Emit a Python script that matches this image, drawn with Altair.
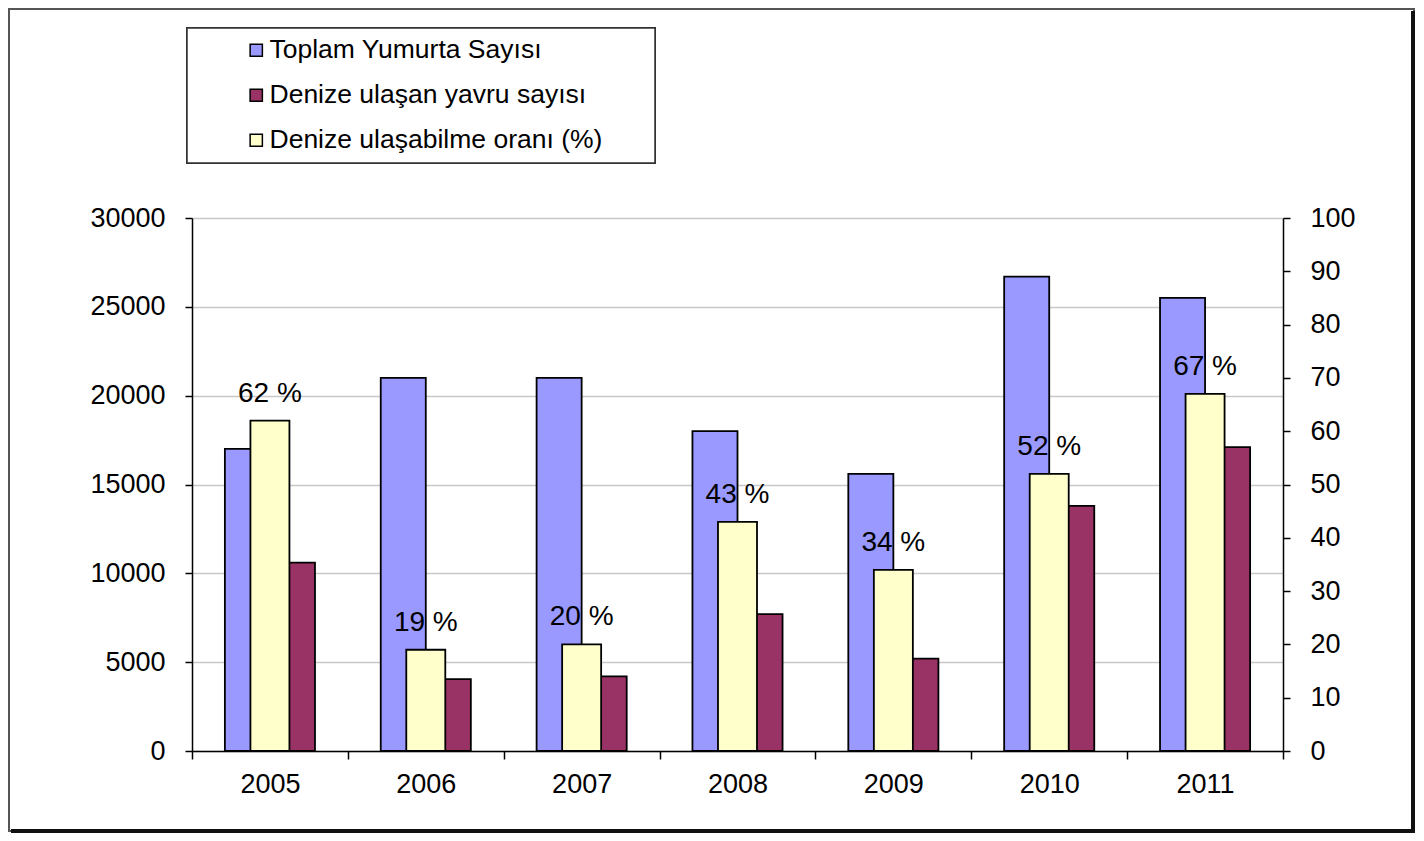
import altair as alt
import pandas as pd

years = ["2005", "2006", "2007", "2008", "2009", "2010", "2011"]
toplam = [17000, 21000, 21000, 18000, 15600, 26700, 25500]
yavru = [10600, 4050, 4200, 7700, 5200, 13800, 17100]
oran = [62, 19, 20, 43, 34, 52, 67]

s_toplam = "Toplam Yumurta Sayısı"
s_yavru = "Denize ulaşan yavru sayısı"
s_oran = "Denize ulaşabilme oranı (%)"
series_names = [s_toplam, s_yavru, s_oran]
series_colors = ["#9999FF", "#993366", "#FFFFCC"]

left_ticks = [0, 5000, 10000, 15000, 20000, 25000, 30000]
right_ticks = [0, 10, 20, 30, 40, 50, 60, 70, 80, 90, 100]

FONT = "Liberation Sans"

rows = []
for i, y in enumerate(years):
    rows.append({"year": y, "series": s_toplam, "value": toplam[i]})
    rows.append({"year": y, "series": s_yavru, "value": yavru[i]})
df_primary = pd.DataFrame(rows)
df_oran = pd.DataFrame({"year": years, "oran": oran, "series": [s_oran] * len(years)})

x_scale = alt.Scale(domain=years, paddingInner=0, paddingOuter=0)
x_axis = alt.Axis(title=None, labelAngle=0, tickBand="extent", tickSize=8,
                  labelPadding=12, labelFontSize=27, labelFont=FONT,
                  labelColor="#000000", domainColor="#000000", tickColor="#000000",
                  domainWidth=1.5, tickWidth=1.5, grid=False, zindex=1)

legend = alt.Legend(title=None, orient="none", legendX=-5, legendY=-190,
                    symbolType="square", symbolSize=150, symbolStrokeColor="#000000",
                    symbolStrokeWidth=1.5, labelFontSize=26.5, labelFont=FONT,
                    labelColor="#000000", labelOffset=0, rowPadding=18,
                    symbolOffset=47, padding=9, labelLimit=600)
color_scale = alt.Scale(domain=series_names, range=series_colors)

primary = alt.Chart(df_primary).mark_bar(stroke="#000000", strokeWidth=1.8).encode(
    x=alt.X("year:N", scale=x_scale, axis=x_axis, sort=years),
    xOffset=alt.XOffset("series:N", sort=[s_toplam, s_yavru],
                        scale=alt.Scale(domain=[s_toplam, s_yavru], paddingInner=0, paddingOuter=0.73)),
    y=alt.Y("value:Q", scale=alt.Scale(domain=[0, 30000], nice=False),
            axis=alt.Axis(title=None, values=left_ticks, format="d", orient="left",
                          labelFontSize=27, labelFont=FONT, labelColor="#000000",
                          labelPadding=20, tickSize=7, tickColor="#000000", tickWidth=1.5,
                          domainColor="#000000", domainWidth=1.5,
                          grid=True, gridColor="#C8C8C8", gridWidth=1.5)),
    color=alt.Color("series:N", scale=color_scale, legend=legend),
)

right_axis = alt.Axis(title=None, values=right_ticks, orient="right",
                      labelFontSize=27, labelFont=FONT, labelColor="#000000",
                      labelPadding=20, tickSize=7, tickColor="#000000", tickWidth=1.5,
                      domainColor="#000000", domainWidth=1.5, grid=False, zindex=1)
right_scale = alt.Scale(domain=[0, 100], nice=False)

yellow = alt.Chart(df_oran).mark_bar(width=39, stroke="#000000", strokeWidth=1.8).encode(
    x=alt.X("year:N", scale=x_scale, axis=x_axis, sort=years),
    y=alt.Y("oran:Q", scale=right_scale, axis=right_axis),
    color=alt.Color("series:N", scale=color_scale, legend=legend),
)

labels = alt.Chart(df_oran).transform_calculate(
    label="datum.oran + ' %'"
).mark_text(dy=-19, baseline="alphabetic", align="center", fontSize=28,
            font=FONT, color="#000000").encode(
    x=alt.X("year:N", scale=x_scale, axis=x_axis, sort=years),
    y=alt.Y("oran:Q", scale=right_scale, axis=right_axis),
    text="label:N",
)

secondary = alt.layer(yellow, labels)

frame = alt.Chart(df_oran).mark_rect(filled=False, stroke="#555555", strokeWidth=2).encode(
    x=alt.value(-183), x2=alt.value(1222), y=alt.value(-209), y2=alt.value(613)
)
shadow_r = alt.Chart(df_oran).mark_rule(color="#111111", strokeWidth=4).encode(
    x=alt.value(1221), y=alt.value(-207), y2=alt.value(614)
)
shadow_b = alt.Chart(df_oran).mark_rule(color="#111111", strokeWidth=4).encode(
    x=alt.value(-181), x2=alt.value(1223), y=alt.value(613)
)
legend_box = alt.Chart(df_oran).mark_rect(fill="#FFFFFF", stroke="#333333", strokeWidth=1.5).encode(
    x=alt.value(-5), x2=alt.value(463), y=alt.value(-190), y2=alt.value(-55)
)

chart = alt.layer(frame, shadow_r, shadow_b, legend_box, primary, secondary).resolve_scale(
    y="independent"
).properties(
    width=1091, height=533,
    autosize=alt.AutoSizeParams(type="none"),
    padding={"left": 184, "top": 210, "right": 133, "bottom": 82},
    background="#FFFFFF",
).configure_view(stroke=None)

chart.save("out.html", embed_options={"renderer": "svg", "actions": False})
